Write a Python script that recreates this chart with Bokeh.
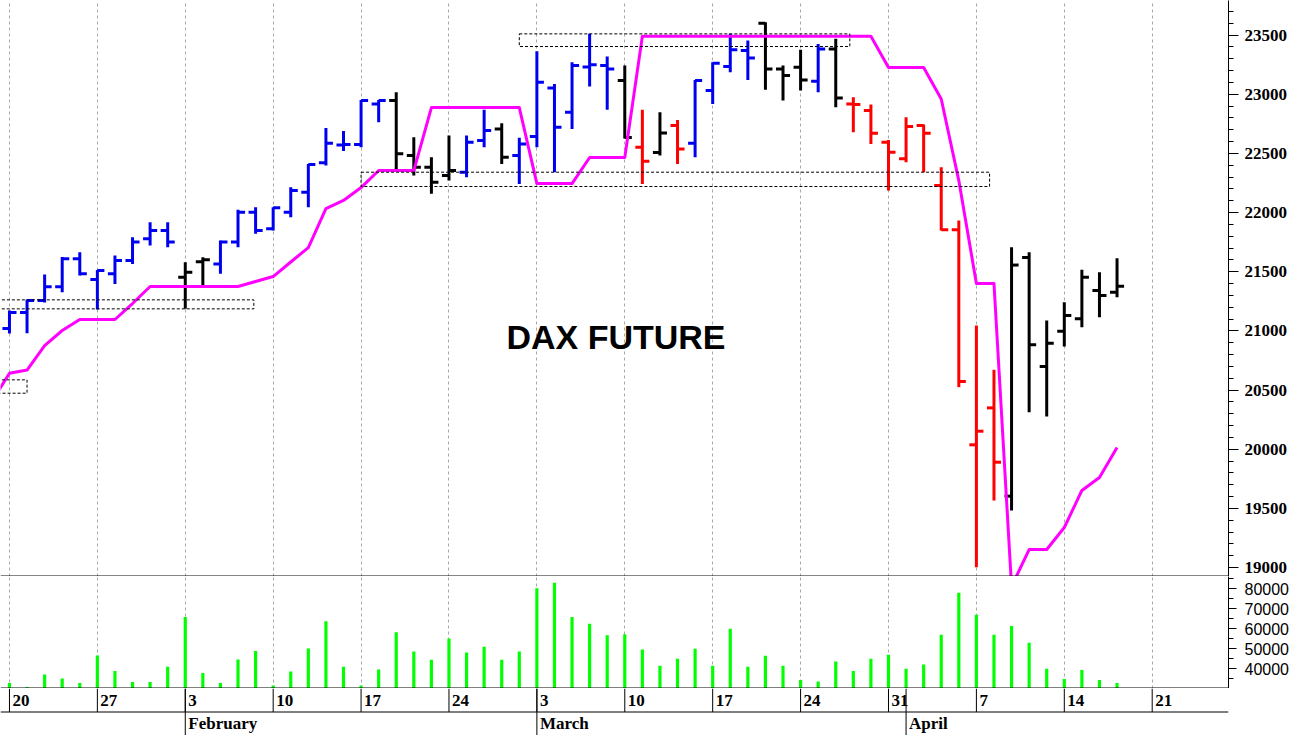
import numpy as np
import pandas as pd
from bokeh.plotting import figure
from bokeh.layouts import column
from bokeh.models import Range1d, FixedTicker, Grid, Span, Label, ColumnDataSource
from bokeh.embed import file_html
from bokeh.resources import INLINE
from bokeh.core.properties import value

# ---------------- data ----------------
dates = pd.bdate_range("2025-01-20", "2025-04-17").strftime("%Y-%m-%d").tolist()

opens = [21020, 21155, 21256, 21372, 21610, 21435, 21482, 21594, 21778, 21848,
         21454, 21585, 21566, 21750, 22003, 21862, 22003, 22172, 22420, 22570,
         22575, 22918, 22947, 22482, 22383, 22313, 22341, 22608, 22707, 22482,
         22642, 23053, 22848, 23230, 23242, 23115, 22552, 22507, 22735, 22586,
         23031, 23234, 23369, 23600, 23214, 23228, 23110, 23383, 22918, 22862,
         22594, 22454, 22735, 22228, 21854, 20037, 20349, 19603, 21620, 20699,
         20997, 21102, 21341, 21327]
highs = [21172, 21265, 21476, 21625, 21665, 21514, 21637, 21792, 21918, 21918,
         21580, 21623, 21764, 22023, 22045, 22045, 22214, 22411, 22715, 22690,
         22952, 22952, 23017, 22637, 22468, 22651, 22651, 22868, 22755, 22631,
         23363, 23087, 23270, 23510, 23318, 23242, 22868, 22848, 22783, 23121,
         23270, 23510, 23454, 23608, 23242, 23375, 23425, 23468, 22975, 22913,
         22614, 22806, 22744, 22383, 21932, 21045, 20671, 21707, 21664, 21087,
         21242, 21516, 21496, 21614]
lows = [20977, 20980, 21240, 21327, 21468, 21180, 21397, 21566, 21722, 21707,
        21186, 21383, 21482, 21707, 21820, 21848, 21961, 22045, 22397, 22520,
        22552, 22763, 22355, 22313, 22158, 22271, 22299, 22552, 22411, 22242,
        22552, 22341, 22707, 23065, 22868, 22625, 22242, 22482, 22411, 22468,
        22918, 23186, 23121, 23037, 22946, 23031, 23017, 22890, 22679, 22580,
        22186, 22426, 22341, 21848, 20524, 19002, 19566, 19482, 20312, 20276,
        20867, 21031, 21115, 21284]
closes = [21155, 21256, 21372, 21610, 21482, 21510, 21594, 21750, 21848, 21750,
          21496, 21600, 21750, 22003, 21848, 22040, 22186, 22406, 22586, 22575,
          22947, 22947, 22496, 22383, 22257, 22355, 22594, 22693, 22468, 22580,
          23101, 22721, 23242, 23250, 23214, 22635, 22434, 22673, 22538, 23115,
          23262, 23375, 23307, 23214, 23158, 23121, 23383, 22969, 22913, 22670,
          22510, 22727, 22670, 21854, 20572, 20152, 19890, 21556, 20882, 20896,
          21129, 21453, 21299, 21377]
trend = ["up"] * 10 + ["flat", "flat"] + ["up"] * 10 + ["flat"] * 4 + ["up", "up", "flat", "up"] \
    + ["up"] * 5 + ["flat", "down", "flat", "down"] + ["up"] * 4 + ["flat"] * 3 + ["up", "flat"] \
    + ["down"] * 9 + ["flat"] * 7
volumes = [32800, 30800, 37000, 35000, 32800, 46500, 38700, 33300, 33300, 40900,
           65700, 37800, 32800, 44500, 48700, 31500, 38500, 50000, 63600, 40900,
           31500, 39500, 58100, 48500, 44400, 55000, 48000, 50900, 44400, 48500,
           80100, 82900, 65700, 62400, 56600, 57100, 49500, 41400, 44900, 49900,
           41400, 59900, 40900, 46400, 41400, 34300, 33500, 43500, 38700, 44900,
           46900, 39900, 42000, 56900, 77900, 66900, 56900, 61200, 52900, 39900,
           34800, 39200, 34200, 32800]

stop_dates = ["2025-01-17"] + dates
stop_vals = [20405,
             20642, 20669, 20876, 21003, 21096, 21096, 21096, 21231, 21375, 21375,
             21375, 21375, 21375, 21375, 21417, 21459, 21582, 21704, 22034, 22102,
             22211, 22355, 22355, 22355, 22887, 22887, 22887, 22887, 22887, 22887,
             22245, 22245, 22245, 22465, 22465, 22465, 23490, 23490, 23490, 23490,
             23490, 23490, 23490, 23490, 23490, 23490, 23490, 23490, 23490, 23490,
             23225, 23225, 23225, 22960, 22270, 21400, 21400, 18840, 19152, 19152,
             19338, 19651, 19761, 20014]

# price zones (dashed boxes): slot from/to, price low/high
zone_x0 = [-1.0, -1.0, 20.0, 29.0]
zone_x1 = [1.0, 13.9, 55.75, 47.8]
zone_lo = [20473, 21186, 22220, 23403]
zone_hi = [20586, 21262, 22341, 23510]

price_ticks = list(range(19000, 23501, 500))
volume_ticks = [40000, 50000, 60000, 70000, 80000]
week_starts = pd.date_range("2025-01-20", "2025-04-21", freq="W-MON").strftime("%Y-%m-%d").tolist()
week_labels = [str(int(s[-2:])) for s in week_starts]
month_starts = ["2025-02-03", "2025-03-03", "2025-04-01"]
month_names = ["February", "March", "April"]

# ---------------- helpers ----------------
ORIGIN = np.datetime64("2025-01-20")


def slot(ds):
    return np.busday_count(ORIGIN, np.array(ds, dtype="datetime64[D]")).astype(float)


x = slot(dates)
sx = slot(stop_dates)
wx = slot(week_starts)
mx = slot(month_starts)

FW = 1228
RB = 69
xr = Range1d(-0.51, 69.34)
PY0, PY1 = 18924, 23792
VY0, VY1 = 30000, 86000
GRID_COLOR = "#a8a8a8"

palette = {"up": "#0000f0", "flat": "#000000", "down": "#ff0000"}
cols = [palette[t] for t in trend]


def base_fig(h, yr, yloc):
    f = figure(frame_width=FW, frame_height=h, x_range=xr, y_range=yr,
               x_axis_location=None, y_axis_location=yloc,
               toolbar_location=None, output_backend="svg",
               min_border_left=0, min_border_top=0, min_border_bottom=0,
               min_border_right=RB, outline_line_color=None,
               background_fill_color="white", border_fill_color="white")
    f.grid.visible = False
    return f


def style_axis(ax, ticks, minor, font, bold, size, tick_out, minor_out, standoff):
    ax.ticker = FixedTicker(ticks=ticks, minor_ticks=minor)
    ax.major_tick_out = tick_out
    ax.major_tick_in = 0
    ax.minor_tick_out = minor_out
    ax.minor_tick_in = 0
    ax.major_label_standoff = standoff
    ax.major_label_text_font = font
    ax.major_label_text_font_style = "bold" if bold else "normal"
    ax.major_label_text_font_size = size
    ax.major_label_text_color = "black"
    ax.axis_line_color = "black"
    ax.major_tick_line_color = "black"
    ax.minor_tick_line_color = "black"


# ---------------- price panel ----------------
p = base_fig(576, Range1d(PY0, PY1), "right")
p.add_layout(Grid(dimension=0, ticker=FixedTicker(ticks=list(wx)), grid_line_color=GRID_COLOR,
                  grid_line_dash="3 3", grid_line_width=1))
style_axis(p.yaxis[0], price_ticks, list(range(18900, 23800, 100)),
           "Liberation Serif", True, "17px", 10, 5, 6)

src = ColumnDataSource(dict(x=x, xl=x - 0.4, xr=x + 0.4, o=opens, h=highs, l=lows,
                            c=closes, col=cols))
p.segment(x0="x", y0="l", x1="x", y1="h", source=src, line_color="col", line_width=3)
p.segment(x0="xl", y0="o", x1="x", y1="o", source=src, line_color="col", line_width=3)
p.segment(x0="x", y0="c", x1="xr", y1="c", source=src, line_color="col", line_width=3)

p.line(sx, stop_vals, line_color="#ff00ff", line_width=3, line_join="round")

p.quad(left=zone_x0, right=zone_x1, bottom=zone_lo, top=zone_hi, fill_color=None,
       line_color="black", line_width=1, line_dash="3 2")

p.add_layout(Label(x=34.5, y=20944, text="DAX FUTURE", text_font="Liberation Sans",
                   text_font_style="bold", text_font_size="34px", text_align="center",
                   text_baseline="middle", text_color="black"))
p.add_layout(Span(location=PY0 + 4, dimension="width", line_color="black", line_width=1))

# ---------------- volume panel ----------------
v = base_fig(112, Range1d(VY0, VY1), "right")
v.add_layout(Grid(dimension=0, ticker=FixedTicker(ticks=list(wx)), grid_line_color=GRID_COLOR,
                  grid_line_dash="3 3", grid_line_width=1))
style_axis(v.yaxis[0], volume_ticks, list(range(30000, 86000, 5000)),
           "Liberation Sans", False, "16px", 8, 5, 8)
v.vbar(x=x, top=volumes, bottom=VY0, width=0.18, fill_color="#00ff00", line_color=None)
v.add_layout(Span(location=VY0 + 250, dimension="width", line_color="black", line_width=1))

# ---------------- date strip ----------------
d = base_fig(47, Range1d(0, 2), None)
d.add_layout(Span(location=1, dimension="width", line_color="black", line_width=1))
d.segment(x0=wx, y0=1, x1=wx, y1=2, line_color="black", line_width=1)
d.segment(x0=mx, y0=0, x1=mx, y1=2, line_color="black", line_width=1)
d.text(x=wx, y=1.5, text=week_labels, x_offset=3, text_baseline="middle",
       text_font=value("Liberation Serif"), text_font_style="bold",
       text_font_size="17px", text_color="black")
d.text(x=mx, y=0.5, text=month_names, x_offset=3, text_baseline="middle",
       text_font=value("Liberation Serif"), text_font_style="bold",
       text_font_size="17px", text_color="black")

layout = column(p, v, d, spacing=0)
open("out.html", "w").write(file_html(layout, INLINE))
